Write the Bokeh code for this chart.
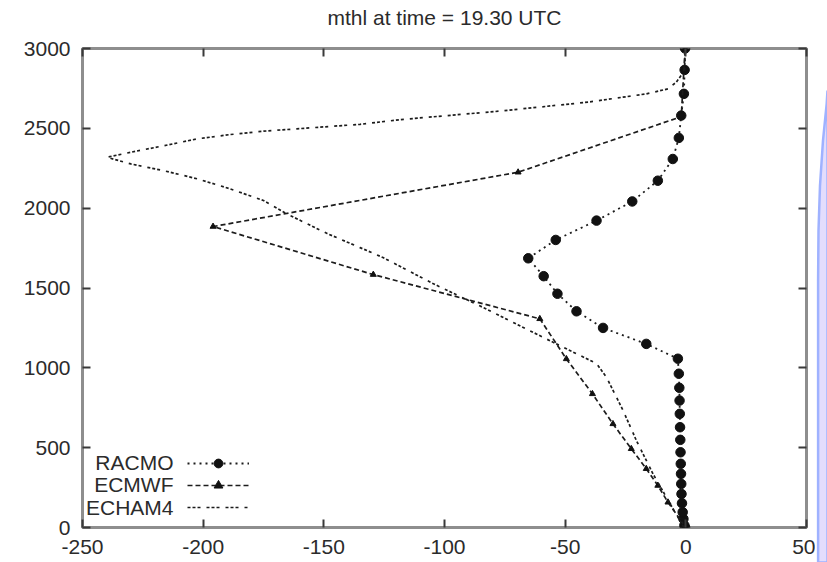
from bokeh.plotting import figure
from bokeh.models import Range1d, FixedTicker, LinearAxis, Legend, LegendItem, Label
from bokeh.layouts import row, column
from bokeh.core.properties import value
from bokeh.embed import file_html
from bokeh.resources import INLINE

# ---------------- data ----------------
racmo_z = [0, 13, 54, 96, 152, 210, 273, 336, 399, 471, 549, 628, 712, 795, 875, 963,
           1057, 1150, 1250, 1354, 1464, 1574, 1686, 1801, 1922, 2042, 2172, 2308, 2440,
           2580, 2716, 2866, 3000]
racmo_x = [-0.3, -0.6, -1.0, -1.3, -1.6, -1.8, -1.9, -2.0, -2.1, -2.2, -2.3, -2.4, -2.5,
           -2.6, -2.7, -2.9, -3.3, -16.4, -34.3, -45.3, -53.2, -58.9, -65.3, -53.9, -37.0,
           -22.2, -11.6, -5.4, -2.9, -1.9, -0.8, -0.5, -0.3]

ecmwf_z = [10, 158, 263, 368, 493, 649, 837, 1056, 1307, 1584, 1885, 2225, 2573, 3000]
ecmwf_x = [-0.5, -7.4, -11.6, -16.4, -22.6, -30.2, -38.7, -49.5, -60.5, -129.5, -195.9,
           -69.5, -1.9, -0.3]

echam_z = [0, 169, 336, 545, 733, 941, 1027, 1160, 1378, 1528, 1691, 1753, 1841, 1964,
           2048, 2121, 2184, 2235, 2277, 2319, 2350, 2392, 2434, 2461, 2482, 2497, 2525,
           2555, 2608, 2665, 2716, 2747, 2790, 2862, 3000]
echam_x = [-0.8, -7.3, -13.6, -20.5, -26.0, -32.9, -37.0, -55.0, -84.0, -104.8, -125.5,
           -135.0, -148.6, -165.3, -175.0, -188.8, -202.5, -216.4, -230.0, -240.0, -230.0,
           -216.0, -202.5, -188.8, -175.0, -161.2, -135.0, -118.0, -77.0, -40.0, -16.4,
           -7.4, -3.9, -0.5, -0.3]

series_names = ["RACMO", "ECMWF", "ECHAM4"]
x_ticks = [-250, -200, -150, -100, -50, 0, 50]
x_tick_labels = ["-250", "-200", "-150", "-100", "-50", "0", "50"]
y_ticks = [0, 500, 1000, 1500, 2000, 2500, 3000]
y_tick_labels = ["0", "500", "1000", "1500", "2000", "2500", "3000"]
title_text = "mthl at time = 19.30 UTC"
x_min, x_max = -250, 50
y_min, y_max = 0, 3000

# ---------------- styling ----------------
FONT = "Liberation Sans"
TXT = "#2b2b2b"
LINE = "#1c1c1c"
FRAME = "#8e8e8e"
TICK = "#3a3a3a"
HEADER_H = 34


def bare(fig):
    fig.grid.visible = False
    fig.outline_line_color = None
    fig.background_fill_color = "white"
    fig.border_fill_color = "white"


# ---------------- header strip holding the title (frame aligned with the plot) ----------------
header = figure(width=815, height=HEADER_H, x_range=Range1d(x_min, x_max),
                y_range=Range1d(0, HEADER_H), output_backend="svg", toolbar_location=None,
                min_border=0, x_axis_location=None, y_axis_location=None)
bare(header)
header.text(x=[(x_min + x_max) / 2], y=[HEADER_H - 17], text=[title_text],
            text_align="center", text_baseline="middle", text_font=value(FONT),
            text_font_size="21px", text_color=TXT)

# ---------------- main plot ----------------
p = figure(width=815, height=562 - HEADER_H, x_range=Range1d(x_min, x_max),
           y_range=Range1d(y_min, y_max), output_backend="svg", toolbar_location=None,
           x_axis_location=None, y_axis_location=None,
           min_border_left=82, min_border_right=9, min_border_top=48 - HEADER_H,
           min_border_bottom=35)
p.grid.visible = False
p.outline_line_color = FRAME
p.outline_line_width = 3
p.background_fill_color = "white"
p.border_fill_color = "white"


def make_axis(ticks, labels, show_labels):
    ax = LinearAxis(ticker=FixedTicker(ticks=ticks),
                    major_label_overrides={t: l for t, l in zip(ticks, labels)})
    ax.axis_line_color = None
    ax.major_tick_in = 8
    ax.major_tick_out = 0
    ax.minor_tick_line_color = None
    ax.major_tick_line_color = TICK
    ax.major_tick_line_width = 2
    ax.major_label_text_font = FONT
    if show_labels:
        ax.major_label_text_color = TXT
        ax.major_label_text_font_size = "21px"
        ax.major_label_standoff = 12
    else:
        ax.major_label_text_color = None
        ax.major_label_text_font_size = "0px"
        ax.major_label_standoff = 0
        ax.axis_label_standoff = 0
    return ax


p.add_layout(make_axis(x_ticks, x_tick_labels, True), "below")
p.add_layout(make_axis(y_ticks, y_tick_labels, True), "left")
p.add_layout(make_axis(x_ticks, x_tick_labels, False), "above")
p.add_layout(make_axis(y_ticks, y_tick_labels, False), "right")

# ---------------- series ----------------
r_line = p.line(racmo_x, racmo_z, line_color=LINE, line_width=1.8, line_dash="2 4")
r_mark = p.scatter(racmo_x, racmo_z, marker="circle", size=9.5, fill_color="#111111",
                   line_color="#111111")

e_line = p.line(ecmwf_x, ecmwf_z, line_color=LINE, line_width=1.7, line_dash="5 3")
e_mark = p.scatter(ecmwf_x, ecmwf_z, marker="triangle", size=6, fill_color="#111111",
                   line_color="#111111")

h_line = p.line(echam_x, echam_z, line_color=LINE, line_width=1.7,
                line_dash="3 2 3 2 3 6")

# ---------------- legend (gnuplot style: text right-aligned, then sample) ----------------
legend = Legend(items=[LegendItem(label="", renderers=[r_line, r_mark]),
                       LegendItem(label="", renderers=[e_line, e_mark]),
                       LegendItem(label="", renderers=[h_line])],
                location=(105, 9), orientation="vertical", glyph_width=62, glyph_height=22,
                spacing=0, padding=0, margin=0, label_width=0, label_standoff=0,
                label_text_font_size="0px", label_text_color=None,
                border_line_color=None, background_fill_alpha=0)
p.add_layout(legend)

for name, yy in zip(series_names, [65, 43, 20]):
    p.add_layout(Label(x=91, y=yy, x_units="screen", y_units="screen", text=name,
                       text_align="right", text_baseline="middle", text_font=FONT,
                       text_font_size="21px", text_color=TXT))

# ---------------- right-edge slide decoration ----------------
deco = figure(width=12, height=562, x_range=Range1d(0, 12), y_range=Range1d(562, 0),
              output_backend="svg", toolbar_location=None, min_border=0,
              x_axis_location=None, y_axis_location=None)
bare(deco)
deco_x = [12, 11.2, 7.5, 4.5, 3.0, 2.6, 2.6, 12]
deco_y = [90, 103, 140, 185, 230, 280, 562, 562]
deco.patch(deco_x, deco_y, fill_color="#e3ddfd", line_color="#9fb2ff", line_width=2.5)

layout = row(column(header, p, spacing=0), deco, spacing=0)
open("out.html", "w").write(file_html(layout, INLINE))
